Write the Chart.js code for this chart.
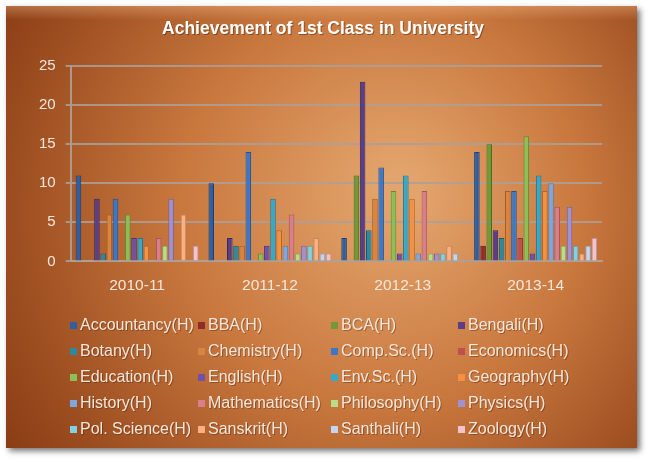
<!DOCTYPE html>
<html>
<head>
<meta charset="utf-8">
<script src="https://cdn.jsdelivr.net/npm/chart.js@4"></script>
<style>
  html, body { margin: 0; padding: 0; background: #fff; }
  #wrap { width: 650px; height: 462px; }
</style>
</head>
<body>
<div id="wrap"><canvas id="myChart" width="650" height="462"></canvas></div>
<script>
const years = ['2010-11', '2011-12', '2012-13', '2013-14'];

const subjects = [
    'Accountancy(H)', 'BBA(H)', 'BCA(H)', 'Bengali(H)',
    'Botany(H)', 'Chemistry(H)', 'Comp.Sc.(H)', 'Economics(H)',
    'Education(H)', 'English(H)', 'Env.Sc.(H)', 'Geography(H)',
    'History(H)', 'Mathematics(H)', 'Philosophy(H)', 'Physics(H)',
    'Pol. Science(H)', 'Sanskrit(H)', 'Santhali(H)', 'Zoology(H)'
];

// first class count per year, one array per subject
const accountancy = [11, 10, 3, 14];
const bba = [0, 0, 0, 2];
const bca = [0, 0, 11, 15];
const bengali = [8, 3, 23, 4];
const botany = [1, 2, 4, 3];
const chemistry = [6, 2, 8, 9];
const compSc = [8, 14, 12, 9];
const economics = [0, 0, 0, 3];
const education = [6, 1, 9, 16];
const english = [3, 2, 1, 1];
const envSc = [3, 8, 11, 11];
const geography = [2, 4, 8, 9];
const history = [0, 2, 1, 10];
const mathematics = [3, 6, 9, 7];
const philosophy = [2, 1, 1, 2];
const physics = [8, 2, 1, 7];
const polScience = [0, 2, 1, 2];
const sanskrit = [6, 3, 2, 1];
const santhali = [0, 1, 1, 2];
const zoology = [2, 1, 0, 3];

const yTicks = [0, 5, 10, 15, 20, 25];

const chartTitle = 'Achievement of 1st Class in University';

const series = [accountancy, bba, bca, bengali, botany, chemistry, compSc, economics,
    education, english, envSc, geography, history, mathematics, philosophy, physics,
    polScience, sanskrit, santhali, zoology];

const colors = [
    '#2f5fa3', '#8e2b2b', '#6f9a36', '#5a3f88', '#2a8ba0', '#d98440',
    '#3b78c9', '#c0504d', '#8cc057', '#7050a8', '#36a9c9', '#f39341',
    '#7fa7de', '#d97f89', '#b9dc8a', '#a290d2', '#82d0e2', '#f9b183',
    '#c3d6f1', '#f1c3cb'
];
const borders = [
    '#1f3f70', '#5e1a1a', '#4a6a22', '#3a285c', '#1b5d6c', '#a85d22',
    '#25528f', '#8a3331', '#5f8a35', '#4b3574', '#237690', '#b8642a',
    '#5a80b6', '#a85560', '#85a85f', '#7565a0', '#589fb0', '#c9835a',
    '#93a6c2', '#c0929a'
];

const bgPlugin = {
    id: 'bgPlugin',
    beforeDraw(chart) {
        const ctx = chart.ctx;
        ctx.save();
        ctx.fillStyle = '#ffffff';
        ctx.fillRect(0, 0, chart.width, chart.height);
        ctx.shadowColor = 'rgba(0,0,0,0.55)';
        ctx.shadowBlur = 6;
        ctx.shadowOffsetX = 3;
        ctx.shadowOffsetY = 3;
        let g = ctx.createRadialGradient(400, 190, 20, 360, 220, 420);
        g.addColorStop(0, '#e2a46c');
        g.addColorStop(0.45, '#c9783e');
        g.addColorStop(1, '#8a3c14');
        ctx.fillStyle = g;
        ctx.fillRect(6, 6, 631, 442);
        ctx.restore();
        // soft top highlight band
        ctx.save();
        let t = ctx.createLinearGradient(0, 6, 0, 20);
        t.addColorStop(0, 'rgba(255,200,150,0.35)');
        t.addColorStop(1, 'rgba(255,200,150,0)');
        ctx.fillStyle = t;
        ctx.fillRect(6, 6, 631, 14);
        ctx.restore();
    }
};

const textPlugin = {
    id: 'texts',
    afterDraw(chart) {
        const ctx = chart.ctx;
        ctx.save();
        // title
        ctx.font = 'bold 17.5px "Liberation Sans", Arial, sans-serif';
        ctx.textAlign = 'center';
        ctx.textBaseline = 'middle';
        ctx.fillStyle = 'rgba(60,20,0,0.45)';
        ctx.fillText(chartTitle, 324, 30);
        ctx.fillStyle = '#ffffff';
        ctx.fillText(chartTitle, 323, 29);

        // legend, 4 columns x 5 rows
        const colX = [70, 198, 331, 458];
        const rowY = [325, 351, 377, 403, 429];
        ctx.font = '16px "Liberation Sans", Arial, sans-serif';
        ctx.textAlign = 'left';
        chart.data.datasets.forEach((ds, i) => {
            const x = colX[i % 4];
            const y = rowY[Math.floor(i / 4)];
            ctx.fillStyle = ds.backgroundColor;
            ctx.fillRect(x, y - 3, 7, 7);
            ctx.fillStyle = 'rgba(60,20,0,0.35)';
            ctx.fillText(ds.label, x + 11, y + 2);
            ctx.fillStyle = '#f4e7dc';
            ctx.fillText(ds.label, x + 10, y + 1);
        });
        ctx.restore();
    }
};

const data = {
    labels: years,
    datasets: subjects.map((name, i) => ({
        label: name,
        data: series[i],
        backgroundColor: colors[i],
        borderColor: borders[i],
        borderWidth: 1,
        categoryPercentage: 0.93,
        barPercentage: 0.9
    }))
};

const config = {
    type: 'bar',
    data: data,
    options: {
        responsive: false,
        animation: false,
        layout: { padding: { left: 29, right: 48, top: 66, bottom: 160 } },
        plugins: {
            legend: { display: false },
            tooltip: { enabled: false },
            title: { display: false }
        },
        scales: {
            x: {
                grid: { display: false },
                border: { display: true, color: 'rgba(175,160,150,0.9)', width: 2 },
                ticks: {
                    color: '#f4e7dc',
                    font: { family: '"Liberation Sans", Arial, sans-serif', size: 15.5 },
                    padding: 7
                }
            },
            y: {
                min: 0,
                max: 25,
                afterBuildTicks(axis) {
                    axis.ticks = yTicks.map(v => ({ value: v }));
                },
                grid: { color: 'rgba(170,160,155,0.85)', lineWidth: 2, tickLength: 5 },
                border: { display: true, color: 'rgba(175,160,150,0.9)', width: 2 },
                ticks: {
                    color: '#f4e7dc',
                    font: { family: '"Liberation Sans", Arial, sans-serif', size: 15 },
                    padding: 10
                }
            }
        }
    },
    plugins: [bgPlugin, textPlugin]
};

new Chart(document.getElementById('myChart'), config);
</script>
</body>
</html>
